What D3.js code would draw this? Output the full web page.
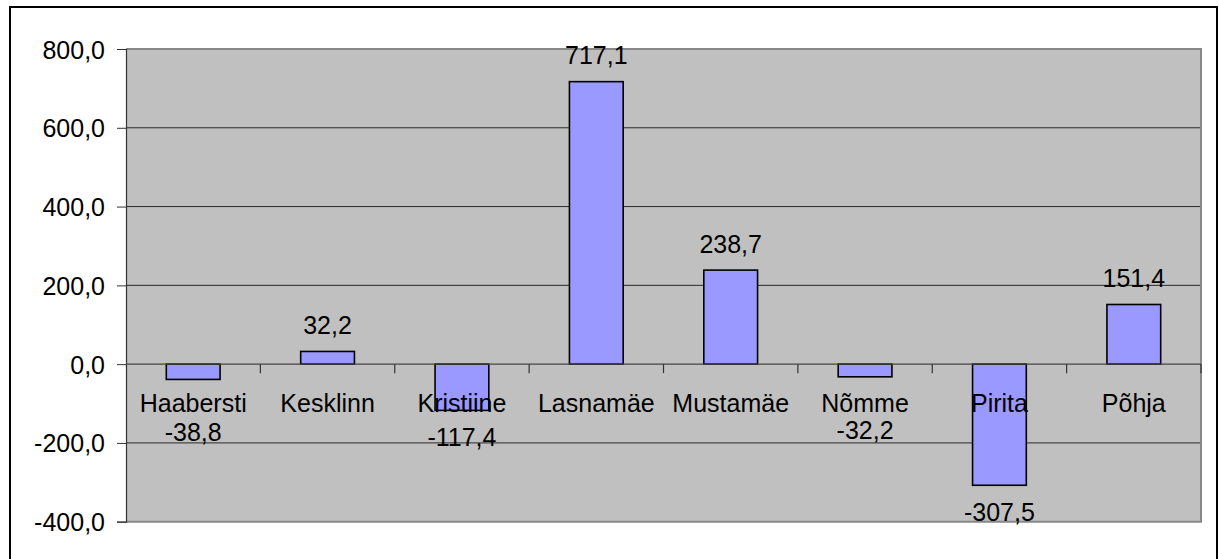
<!DOCTYPE html>
<html>
<head>
<meta charset="utf-8">
<script src="https://cdn.jsdelivr.net/npm/d3@7"></script>
<style>
  html, body { margin: 0; padding: 0; background: #fff; }
  svg text { font-family: "Liberation Sans", Arial, sans-serif; fill: #000; }
</style>
</head>
<body>
<svg id="chart" width="1219" height="559"></svg>
<script>
// District names and their values
const categories = ["Haabersti", "Kesklinn", "Kristiine", "Lasnamäe", "Mustamäe", "Nõmme", "Pirita", "Põhja"];
const values = [-38.8, 32.2, -117.4, 717.1, 238.7, -32.2, -307.5, 151.4];
const yTicks = [-400, -200, 0, 200, 400, 600, 800];

const W = 1219, H = 559;
const plot = { left: 126, right: 1201, top: 49, bottom: 521.7 };
const fontSize = 25;

// Number format with decimal comma and ASCII hyphen for minus
const locale = d3.formatLocale({ decimal: ",", thousands: " ", grouping: [3], currency: ["", ""], minus: "-" });
const fmt = locale.format(".1f");

const svg = d3.select("#chart");

// outer frame
svg.append("rect")
  .attr("x", 10).attr("y", 7)
  .attr("width", 1207).attr("height", 570)
  .attr("fill", "#fff").attr("stroke", "#000").attr("stroke-width", 2);

const y = d3.scaleLinear().domain([-400, 800]).range([plot.bottom, plot.top]);
const xStep = d3.scaleBand().domain(categories).range([plot.left, plot.right]).padding(0);
const xBar = d3.scaleBand().domain(categories).range([plot.left, plot.right])
  .paddingInner(0.6).paddingOuter(0.3);

// plot background
svg.append("rect")
  .attr("x", plot.left).attr("y", plot.top)
  .attr("width", plot.right - plot.left).attr("height", plot.bottom - plot.top)
  .attr("fill", "#C0C0C0");

// horizontal gridlines
svg.append("g")
  .selectAll("line")
  .data(yTicks.filter(t => t !== 800 && t !== -400 && t !== 0))
  .join("line")
  .attr("x1", plot.left).attr("x2", plot.right)
  .attr("y1", d => y(d)).attr("y2", d => y(d))
  .attr("stroke", "#2a2a2a").attr("stroke-width", 1);

// plot border (top, right, bottom) in gray
svg.append("path")
  .attr("d", `M${plot.left},${plot.top}H${plot.right}V${plot.bottom}H${plot.left}`)
  .attr("fill", "none").attr("stroke", "#888").attr("stroke-width", 2);

// y axis
const yAxis = d3.axisLeft(y).tickValues(yTicks).tickSize(9).tickPadding(12).tickFormat(fmt);
const gy = svg.append("g").attr("transform", `translate(${plot.left},0)`).call(yAxis);
gy.select(".domain").attr("stroke", "#333").attr("stroke-width", 1.2);
gy.selectAll(".tick line").attr("stroke", "#333");
gy.selectAll(".tick text")
  .attr("font-size", fontSize)
  .attr("font-family", "Liberation Sans, Arial, sans-serif")
  .attr("dy", "0.36em");

// bars
svg.append("g")
  .selectAll("rect")
  .data(values)
  .join("rect")
  .attr("x", (d, i) => xBar(categories[i]))
  .attr("width", xBar.bandwidth())
  .attr("y", d => y(Math.max(0, d)))
  .attr("height", d => Math.abs(y(d) - y(0)))
  .attr("fill", "#9999FF")
  .attr("stroke", "#000").attr("stroke-width", 1.6);

// zero axis with category tick marks
svg.append("line")
  .attr("x1", plot.left).attr("x2", plot.right)
  .attr("y1", y(0)).attr("y2", y(0))
  .attr("stroke", "#444").attr("stroke-width", 1.3);
svg.append("g")
  .selectAll("line")
  .data(d3.range(1, categories.length + 1))
  .join("line")
  .attr("x1", i => plot.left + i * xStep.step())
  .attr("x2", i => plot.left + i * xStep.step())
  .attr("y1", y(0)).attr("y2", y(0) + 9)
  .attr("stroke", "#333").attr("stroke-width", 1.2);

// category labels just below the zero line
const catBaseline = y(0) + 48;
svg.append("g")
  .selectAll("text")
  .data(categories)
  .join("text")
  .attr("x", d => xStep(d) + xStep.bandwidth() / 2)
  .attr("y", catBaseline)
  .attr("text-anchor", "middle")
  .attr("font-size", fontSize)
  .text(d => d);

// value labels at the bar ends; negative labels move a line down when they would collide with the category labels
const lineGap = 26.5;
svg.append("g")
  .selectAll("text")
  .data(values)
  .join("text")
  .attr("x", (d, i) => xStep(categories[i]) + xStep.bandwidth() / 2)
  .attr("y", d => {
    if (d >= 0) return y(d) - 17.5;
    let b = y(d) + 35.5;
    if (b < catBaseline + lineGap) b += lineGap;
    return b;
  })
  .attr("text-anchor", "middle")
  .attr("font-size", fontSize)
  .text(d => fmt(d));
</script>
</body>
</html>
